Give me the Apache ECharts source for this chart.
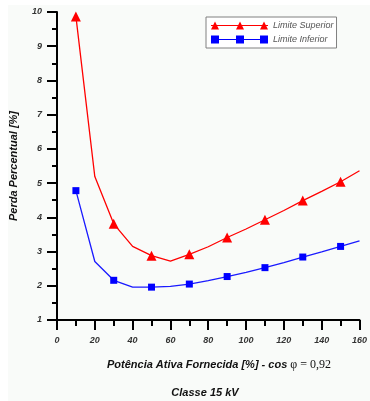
<!DOCTYPE html>
<html>
<head>
<meta charset="utf-8">
<script src="https://cdn.jsdelivr.net/npm/echarts@6/dist/echarts.min.js"></script>
<style>html,body{margin:0;padding:0;background:#fff}#c{width:370px;height:401px}</style>
</head>
<body>
<div id="c"></div>
<script>
// ---- data ----
const xValues = [10,20,30,40,50,60,70,80,90,100,110,120,130,140,150,160];
const upperValues = [9.87,5.19,3.81,3.15,2.88,2.72,2.92,3.14,3.41,3.66,3.93,4.20,4.49,4.76,5.04,5.36];
const lowerValues = [4.78,2.71,2.16,1.96,1.96,1.98,2.05,2.15,2.27,2.39,2.53,2.68,2.84,2.99,3.15,3.31];
const markerX = [10,30,50,70,90,110,130,150];
const seriesNames = ['Limite Superior','Limite Inferior'];
const xTitle = 'Potência Ativa Fornecida [%] - cos ';
const xTitleSym = 'φ = 0,92';
const yTitle = 'Perda Percentual [%]';
const subTitle = 'Classe 15 kV';

function build(vals, sym){
  return xValues.map((x,i)=>({value:[x, vals[i]], symbol: markerX.includes(x) ? sym : 'none'}));
}

const triIcon = 'path://M0,45L570,45L570,55L0,55Z M0,90L40,10L80,90Z M250,90L290,10L330,90Z M490,90L530,10L570,90Z';
const sqIcon = 'path://M0,35L570,35L570,45L0,45Z M0,0L80,0L80,80L0,80Z M250,0L330,0L330,80L250,80Z M490,0L570,0L570,80L490,80Z';

const chart = echarts.init(document.getElementById('c'), null, {renderer:'canvas'});
const labelFont = {fontFamily:'Liberation Sans, Arial, sans-serif', fontWeight:'bold', fontStyle:'italic', fontSize:9, color:'#333'};
chart.setOption({
  animation:false,
  backgroundColor:'#ffffff',
  graphic:[{type:'rect', z:-10, shape:{x:8,y:5,width:362,height:396}, style:{fill:'#f9fbf9'}, silent:true}],
  title:[
    {text:'{a|'+xTitle+'}{b|'+xTitleSym+'}', left:214, top:354, textAlign:'center',
     textStyle:{rich:{
       a:{fontFamily:'Liberation Sans, Arial, sans-serif', fontWeight:'bold', fontStyle:'italic', fontSize:11, color:'#111'},
       b:{fontFamily:'Liberation Serif, Times New Roman, serif', fontWeight:'normal', fontStyle:'normal', fontSize:12, color:'#111'}}}},
    {text:subTitle, left:200, top:382, textAlign:'center',
     textStyle:{fontFamily:'Liberation Sans, Arial, sans-serif', fontWeight:'bold', fontStyle:'italic', fontSize:11, color:'#111'}}
  ],
  legend:{
    left:206, top:17, orient:'vertical',
    padding:[4,3,4,5], itemGap:5,
    backgroundColor:'#ffffff', borderColor:'#808080', borderWidth:1, borderRadius:0,
    itemWidth:57, itemHeight:8, symbolKeepAspect:false,
    itemStyle:{borderWidth:0},
    textStyle:{fontFamily:'Liberation Sans, Arial, sans-serif', fontStyle:'italic', fontSize:9, color:'#555', padding:[0,0,0,0]},
    data:[{name:seriesNames[0], icon:triIcon},{name:seriesNames[1], icon:sqIcon}]
  },
  grid:{left:53, right:10, top:12, bottom:81, containLabel:false},
  xAxis:{
    type:'value', min:0, max:160, interval:20,
    axisLine:{show:true, onZero:false, lineStyle:{color:'#000', width:2}},
    axisTick:{show:true, inside:false, length:10, lineStyle:{color:'#000', width:2}},
    minorTick:{show:true, splitNumber:2, length:6, lineStyle:{color:'#000', width:2}},
    splitLine:{show:false},
    axisLabel:Object.assign({margin:16}, labelFont)
  },
  yAxis:{
    type:'value', min:1, max:10, interval:1,
    name:yTitle, nameLocation:'middle', nameGap:38, nameRotate:90,
    nameTextStyle:{fontFamily:'Liberation Sans, Arial, sans-serif', fontWeight:'bold', fontStyle:'italic', fontSize:11, color:'#111'},
    axisLine:{show:true, lineStyle:{color:'#000', width:2}},
    axisTick:{show:true, inside:false, length:10, lineStyle:{color:'#000', width:2}},
    minorTick:{show:true, splitNumber:2, length:5, lineStyle:{color:'#000', width:2}},
    splitLine:{show:false},
    axisLabel:Object.assign({margin:15}, labelFont)
  },
  series:[
    {name:seriesNames[0], type:'line', data:build(upperValues,'triangle'), symbolSize:10,
     color:'#ff0000', lineStyle:{color:'#ff0000', width:1.3}, itemStyle:{color:'#ff0000', borderWidth:0}},
    {name:seriesNames[1], type:'line', data:build(lowerValues,'rect'), symbolSize:7,
     color:'#0000ff', lineStyle:{color:'#1a1aff', width:1.3}, itemStyle:{color:'#0000ff', borderWidth:0}}
  ]
});
</script>
</body>
</html>
